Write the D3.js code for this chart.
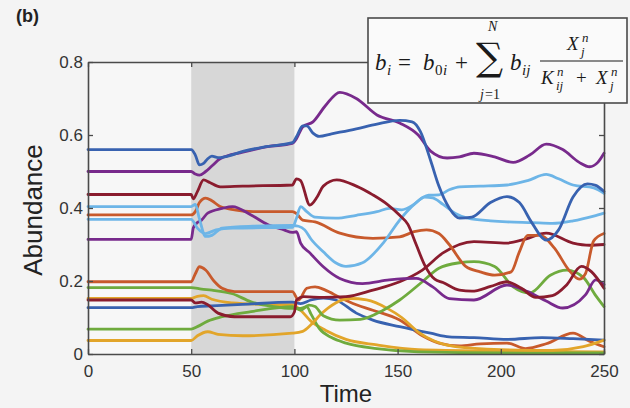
<!DOCTYPE html>
<html><head><meta charset="utf-8">
<script src="https://cdn.jsdelivr.net/npm/d3@7"></script>
<style>
html,body{margin:0;padding:0;background:#f4f4f4;}
svg{display:block;}
</style></head>
<body>
<svg id="chart" width="630" height="408"></svg>
<script>
// ---- data (time, abundance) ----
const xTicks = [0, 50, 100, 150, 200, 250];
const yTicks = [0, 0.2, 0.4, 0.6, 0.8];
const shadedInterval = [50, 100];

const blue1 = [[0,.560],[50,.560],[52,.545],[54,.518],[56,.522],[58,.535],[60,.542],[63,.538],[66,.540],[75,.555],[85,.567],[99,.579],[101,.595],[104,.625],[106,.625],[109,.605],[112,.596],[118,.603],[130,.617],[140,.630],[151,.640],[157,.636],[161,.61],[166,.53],[170,.46],[175,.40],[180,.372],[186,.375],[195,.415],[203,.431],[209,.415],[215,.36],[222,.312],[228,.34],[235,.43],[242,.466],[246,.462],[250,.445]];
const purple1 = [[0,.50],[50,.50],[52,.493],[54,.49],[57,.50],[60,.515],[64,.535],[75,.553],[87,.568],[99,.577],[101,.59],[104,.622],[109,.636],[115,.68],[122,.717],[130,.70],[140,.655],[151,.633],[160,.60],[166,.556],[174,.537],[180,.540],[187,.55],[197,.54],[206,.525],[214,.545],[222,.575],[230,.560],[238,.525],[243,.513],[247,.525],[250,.55]];
const darkred1 = [[0,.437],[50,.437],[51,.425],[53,.445],[56,.477],[59,.47],[64,.458],[75,.46],[99,.463],[101,.48],[103,.475],[107.5,.408],[111,.43],[114,.46],[120.5,.477],[130,.46],[138,.436],[145,.41],[151,.38],[155,.355],[159,.30],[163,.245],[168,.205],[172,.196],[180,.175],[186,.172],[195,.185],[203,.198],[210,.18],[217,.155],[225,.16],[232,.19],[239,.24],[244,.225],[250,.18]];
const darkred2 = [[0,.148],[50,.148],[52,.14],[55,.142],[58,.135],[63,.112],[71,.102],[98,.102],[100,.115],[101,.148],[104.5,.157],[114,.155],[125,.157],[138,.175],[151,.198],[162,.23],[172,.277],[187,.308],[203,.304],[212,.315],[222,.331],[235,.304],[243,.298],[250,.30]];
const lightblue1 = [[0,.404],[50,.404],[52,.41],[54,.37],[57,.322],[60,.325],[65,.345],[80,.35],[99,.352],[102,.35],[105,.34],[108,.315],[114,.28],[120,.25],[125,.24],[133,.25],[143,.304],[151,.367],[158,.41],[165,.435],[170,.436],[175,.45],[180,.458],[190,.46],[203,.463],[213,.475],[222,.492],[228,.48],[235,.463],[245,.455],[250,.44]];
const lightblue2 = [[0,.369],[50,.369],[53,.345],[57,.33],[62,.34],[70,.345],[99,.347],[101,.372],[103,.404],[106,.39],[110,.375],[120,.372],[130,.38],[140,.39],[146,.399],[152,.395],[158,.41],[163,.43],[167,.428],[172,.41],[178,.385],[184,.372],[195,.365],[203,.362],[215,.36],[225,.358],[235,.365],[245,.378],[250,.386]];
const orange1 = [[0,.381],[50,.381],[52,.39],[54,.415],[57,.427],[60,.42],[64,.404],[71,.395],[80,.39],[99,.39],[101,.385],[104,.367],[110,.362],[122,.331],[138,.317],[151,.321],[158,.335],[164,.34],[170,.33],[175,.30],[183,.24],[190,.225],[197,.216],[205,.225],[209,.28],[213,.325],[219,.325],[226,.29],[233,.23],[238,.205],[241,.22],[245,.31],[250,.33]];
const orange2 = [[0,.198],[50,.198],[52,.22],[54,.239],[57,.23],[61,.2],[65,.18],[71,.171],[99,.171],[102,.148],[106,.18],[110,.184],[115,.175],[122,.155],[130,.135],[138,.12],[151,.093],[162,.05],[170,.03],[180,.022],[190,.028],[203,.03],[212,.015],[222,.028],[235,.057],[243,.035],[250,.02]];
const yellow1 = [[0,.152],[50,.152],[53,.158],[56,.16],[60,.15],[70,.14],[85,.136],[99,.135],[103,.12],[108,.09],[115,.065],[125,.04],[140,.025],[160,.012],[200,.008],[250,.006]];
const yellow2 = [[0,.037],[50,.037],[53,.05],[58,.061],[63,.054],[75,.05],[99,.057],[104,.062],[108,.08],[113,.11],[120,.14],[127,.152],[135,.148],[145,.125],[152,.10],[160,.06],[168,.035],[178,.02],[200,.012],[225,.01],[240,.02],[250,.038]];
const blue2 = [[0,.127],[50,.127],[53,.13],[60,.132],[75,.136],[99,.142],[103,.138],[108,.148],[114,.153],[120,.148],[130,.112],[138,.093],[151,.075],[166,.057],[175,.047],[187,.045],[203,.04],[220,.045],[235,.042],[250,.038]];
const green1 = [[0,.182],[50,.182],[55,.178],[60,.175],[70,.165],[79,.143],[90,.13],[99,.125],[103,.125],[106,.13],[108,.11],[112,.07],[118,.045],[125,.03],[140,.015],[160,.006],[200,.003],[250,.003]];
const green2 = [[0,.068],[50,.068],[53,.075],[58,.09],[65,.102],[79,.116],[99,.13],[103,.12],[107,.134],[110,.13],[114,.105],[122,.093],[132,.095],[143,.12],[151,.148],[162,.198],[170,.235],[180,.25],[187,.253],[197,.24],[206,.184],[214,.167],[224,.216],[232,.23],[240,.21],[246,.16],[250,.13]];
const purple2 = [[0,.314],[50,.314],[51,.345],[53,.36],[55,.367],[58,.386],[65,.399],[70,.404],[79,.381],[87,.355],[95,.34],[99,.333],[101,.335],[103,.304],[107.5,.277],[114,.239],[122,.207],[133,.193],[146,.203],[159,.207],[167,.184],[175,.152],[187,.148],[203,.189],[213,.171],[222,.145],[230,.126],[241,.162],[246,.203],[250,.19]];

const seriesList = [
  {name:"yellow1", data:yellow1, color:"#e2a52a"},
  {name:"green1", data:green1, color:"#6fab3e"},
  {name:"orange2", data:orange2, color:"#c85a2c"},
  {name:"blue2", data:blue2, color:"#3862b0"},
  {name:"yellow2", data:yellow2, color:"#e2a52a"},
  {name:"green2", data:green2, color:"#6fab3e"},
  {name:"darkred2", data:darkred2, color:"#8a1c2e"},
  {name:"orange1", data:orange1, color:"#c85a2c"},
  {name:"purple2", data:purple2, color:"#782a8c"},
  {name:"lightblue1", data:lightblue1, color:"#6db5e7"},
  {name:"lightblue2", data:lightblue2, color:"#6db5e7"},
  {name:"darkred1", data:darkred1, color:"#8a1c2e"},
  {name:"purple1", data:purple1, color:"#782a8c"},
  {name:"blue1", data:blue1, color:"#3862b0"}
];

// ---- drawing ----
const svg = d3.select("#chart");
const x = d3.scaleLinear().domain([0, 250]).range([88, 604]);
const y = d3.scaleLinear().domain([0, 0.8]).range([354, 62]);

svg.append("rect").attr("x", x(0)).attr("y", y(0.8))
  .attr("width", x(250) - x(0)).attr("height", y(0) - y(0.8))
  .attr("fill", "#f7f7f7");

svg.append("rect").attr("x", x(shadedInterval[0])).attr("y", y(0.8))
  .attr("width", x(shadedInterval[1]) - x(shadedInterval[0]))
  .attr("height", y(0) - y(0.8)).attr("fill", "#d7d7d7");

const line = d3.line().x(d => x(d[0])).y(d => y(d[1])).curve(d3.curveMonotoneX);

svg.append("g").selectAll("path").data(seriesList).join("path")
  .attr("d", d => line(d.data))
  .attr("fill", "none")
  .attr("stroke", d => d.color)
  .attr("stroke-width", 2.8)
  .attr("stroke-linejoin", "round")
  .attr("stroke-linecap", "round");

// axes: box with inward ticks
const axisColor = "#4a4a4a";
const sans = "Liberation Sans, Arial, sans-serif";
const fmt = d => d === 0 ? "0" : d3.format("~g")(d);
const gB = svg.append("g").attr("transform", `translate(0,${y(0)})`)
  .call(d3.axisBottom(x).tickValues(xTicks).tickSizeInner(-5).tickSizeOuter(0).tickPadding(11).tickFormat(fmt));
const gT = svg.append("g").attr("transform", `translate(0,${y(0.8)})`)
  .call(d3.axisTop(x).tickValues(xTicks).tickSizeInner(-5).tickSizeOuter(0).tickFormat(""));
const gL = svg.append("g").attr("transform", `translate(${x(0)},0)`)
  .call(d3.axisLeft(y).tickValues(yTicks).tickSizeInner(-5).tickSizeOuter(0).tickPadding(5).tickFormat(fmt));
const gR = svg.append("g").attr("transform", `translate(${x(250)},0)`)
  .call(d3.axisRight(y).tickValues(yTicks).tickSizeInner(-5).tickSizeOuter(0).tickFormat(""));
[gB, gT, gL, gR].forEach(g => {
  g.select(".domain").attr("stroke", axisColor).attr("stroke-width", 1.6);
  g.selectAll(".tick line").attr("stroke", axisColor).attr("stroke-width", 1.3);
  g.selectAll(".tick text").attr("fill", "#333").attr("font-size", 17).attr("font-family", sans);
});

// titles
svg.append("text").attr("x", x(125)).attr("y", 402).attr("text-anchor", "middle")
  .attr("font-family", sans).attr("font-size", 24).attr("fill", "#222").text("Time");
svg.append("text").attr("transform", `translate(42,210) rotate(-90)`).attr("text-anchor", "middle")
  .attr("font-family", sans).attr("font-size", 26).attr("fill", "#222").text("Abundance");
svg.append("text").attr("x", 16).attr("y", 22)
  .attr("font-family", sans).attr("font-size", 18).attr("font-weight", "bold").attr("fill", "#222").text("(b)");

// formula box
const fb = svg.append("g");
fb.append("rect").attr("x", 368).attr("y", 18).attr("width", 259).attr("height", 85)
  .attr("fill", "#fafafa").attr("stroke", "#4a4a4a").attr("stroke-width", 1.6);
const serif = "Liberation Serif, Times New Roman, serif";
function t(txt, xx, yy, size, italic, fam) {
  return fb.append("text").attr("x", xx).attr("y", yy).attr("font-family", fam || serif)
    .attr("font-size", size).attr("font-style", italic ? "italic" : "normal").attr("fill", "#1a1a1a").text(txt);
}
t("b", 375, 70, 23, true); t("i", 387, 75, 15, true);
t("=", 398, 70, 23, false);
t("b", 423, 70, 23, true); t("0", 435, 75, 15, false); t("i", 443, 75, 15, true);
t("+", 455, 70, 23, false);
t("∑", 476, 70, 38, false, "DejaVu Serif, serif");
t("N", 488, 31, 14, true);
t("j", 480, 99, 14, true); t("=1", 485, 99, 14, false);
t("b", 510, 70, 23, true); t("ij", 522, 75, 15, true);
fb.append("line").attr("x1", 540).attr("x2", 623).attr("y1", 61).attr("y2", 61).attr("stroke", "#1a1a1a").attr("stroke-width", 1.2);
t("X", 567, 50, 19, true); t("n", 582, 42, 13, true); t("j", 581, 56, 13, true);
t("K", 541, 84, 19, true); t("n", 557, 76, 13, true); t("ij", 556, 90, 13, true);
t("+", 576, 84, 19, false);
t("X", 596, 84, 19, true); t("n", 611, 76, 13, true); t("j", 610, 90, 13, true);
</script>
</body></html>
